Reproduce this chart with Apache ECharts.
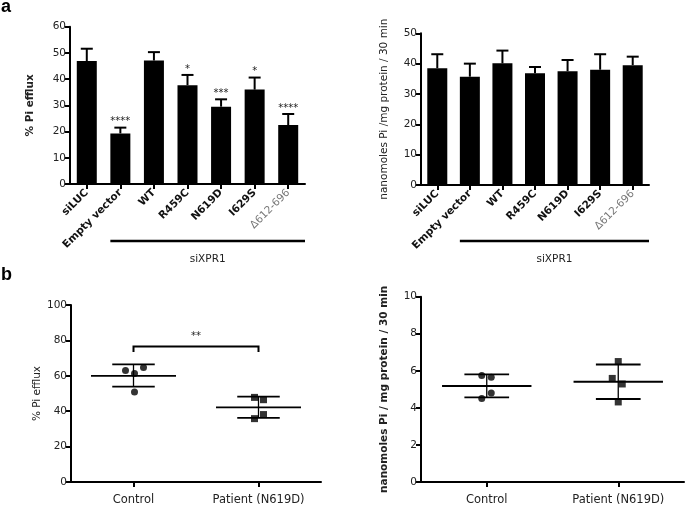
<!DOCTYPE html>
<html><head><meta charset="utf-8">
<script src="https://cdn.jsdelivr.net/npm/echarts@6/dist/echarts.min.js"></script>
<style>html,body{margin:0;padding:0;background:#fff}#c{width:685px;height:506px}</style>
</head><body><div id="c"></div>
<script>
// ---------- DATA ----------
const barCategories = ['siLUC','Empty vector','WT','R459C','N619D','I629S','\u0394612-696'];
const effluxMean = [46.9,19.3,47.1,37.7,29.5,36.0,22.5];
const effluxErrTop = [51.6,21.5,50.3,41.6,32.3,40.6,26.7];
const effluxStars = ['','****','','*','***','*','****'];
const uptakeMean = [38.5,35.7,40.1,36.8,37.5,38.0,39.5];
const uptakeErrTop = [43.1,40.0,44.3,38.9,41.2,43.1,42.3];
const groupLabel = 'siXPR1';
const groupStartCategory = 'Empty vector';

const dotCategories = ['Control','Patient (N619D)'];
const effluxControl = [63.0,61.3,64.7,50.9];
const effluxPatient = [47.8,46.5,38.1,35.8];
const effluxMeanSD = [[60.0,66.4,53.9],[42.2,48.2,36.2]];
const uptakeControl = [5.75,5.65,4.8,4.5];
const uptakePatient = [6.5,5.59,5.29,4.32];
const uptakeMeanSD = [[5.18,5.81,4.57],[5.41,6.34,4.48]];
const bracketTop = 76.5, bracketFoot = 73.4, bracketText = '**';

const yTicksTopLeft = [0,60,10];
const yTicksTopRight = [0,50,10];
const yTicksBottomLeft = [0,100,20];
const yTicksBottomRight = [0,10,2];

// ---------- STYLE ----------
const FONT = 'DejaVu Sans';
const jitterEffluxC = [-8,1,10,1], jitterEffluxP = [-4,5,5,-4];
const jitterUptakeC = [-5,4.5,4.5,-5], jitterUptakeP = [0,-6,4,0];

const chart = echarts.init(document.getElementById('c'), null, {renderer:'canvas'});

function yAxis(gi, t, name, bold, gap, fs){
  return {type:'value', gridIndex:gi, min:t[0], max:t[1], interval:t[2],
    name:name, nameLocation:'middle', nameGap:gap,
    nameTextStyle:{fontFamily:FONT, fontSize:fs, color:'#222', fontWeight:bold?'bold':'normal'},
    axisLine:{show:true, lineStyle:{color:'#000', width:2}},
    axisTick:{show:true, length:5, lineStyle:{color:'#000', width:2}},
    axisLabel:{fontFamily:FONT, fontSize:10.5, color:'#222', margin:4},
    splitLine:{show:false}};
}
function barX(gi){
  return {type:'category', gridIndex:gi, data:barCategories,
    axisLine:{lineStyle:{color:'#000', width:2}},
    axisTick:{show:true, alignWithLabel:true, length:5, lineStyle:{color:'#000', width:2}},
    axisLabel:{rotate:45, interval:0, fontFamily:FONT, fontSize:10.5, fontWeight:'bold', color:'#111', margin:7,
      formatter:v=> v.charAt(0)==='\u0394' ? '{g|'+v+'}' : v,
      rich:{g:{fontFamily:FONT, fontSize:10.5, fontWeight:'normal', color:'#777'}}}};
}
function dotX(gi){
  return {type:'category', gridIndex:gi, data:dotCategories,
    axisLine:{lineStyle:{color:'#000', width:2}},
    axisTick:{show:true, alignWithLabel:true, length:5, lineStyle:{color:'#000', width:2}},
    axisLabel:{fontFamily:FONT, fontSize:11.5, color:'#222', margin:12}};
}
function errSeries(gi, mean, top, stars){
  return {type:'custom', xAxisIndex:gi, yAxisIndex:gi, z:5,
    data: mean.map((m,i)=>[i,m,top[i]]),
    renderItem:(p,api)=>{
      const i=api.value(0);
      const a=api.coord([i,api.value(1)]), b=api.coord([i,api.value(2)]);
      const st={stroke:'#000', lineWidth:2};
      const ch=[
        {type:'line', shape:{x1:a[0],y1:a[1],x2:b[0],y2:b[1]}, style:st},
        {type:'line', shape:{x1:b[0]-6,y1:b[1],x2:b[0]+6,y2:b[1]}, style:st}];
      if(stars && stars[p.dataIndex]) ch.push({type:'text', x:b[0], y:b[1]-1,
        style:{text:stars[p.dataIndex], fill:'#222', font:'10px '+FONT, align:'center', verticalAlign:'bottom'}});
      return {type:'group', children:ch};
    }};
}
function sumSeries(gi, arr){
  return {type:'custom', xAxisIndex:gi, yAxisIndex:gi, z:4,
    data: arr.map((s,i)=>[i,s[0],s[1],s[2]]),
    renderItem:(p,api)=>{
      const i=api.value(0), band=api.size([1,0])[0];
      const m=api.coord([i,api.value(1)]), u=api.coord([i,api.value(2)]), l=api.coord([i,api.value(3)]);
      const hw=band*0.34, cw=band*0.17, st={stroke:'#000', lineWidth:1.8};
      return {type:'group', children:[
        {type:'line', shape:{x1:m[0]-hw,y1:m[1],x2:m[0]+hw,y2:m[1]}, style:st},
        {type:'line', shape:{x1:u[0]-cw,y1:u[1],x2:u[0]+cw,y2:u[1]}, style:st},
        {type:'line', shape:{x1:l[0]-cw,y1:l[1],x2:l[0]+cw,y2:l[1]}, style:st},
        {type:'line', shape:{x1:u[0],y1:u[1],x2:l[0],y2:l[1]}, style:{stroke:'#000', lineWidth:1.3}}]};
    }};
}
function dots(gi, cat, vals, jit, sym){
  return {type:'scatter', xAxisIndex:gi, yAxisIndex:gi, symbol:sym, symbolSize:7, z:6,
    itemStyle:{color:'#000'},
    data: vals.map((v,k)=>({value:[cat,v], symbolOffset:[jit[k],0]}))};
}

const option = {
  animation:false,
  grid:[
    {left:70, top:26.7, width:235, height:157.3},
    {left:421, top:33.3, width:228, height:151.7},
    {left:71, top:305, width:250, height:177.7},
    {left:421, top:296.7, width:263, height:186}],
  xAxis:[barX(0), barX(1), dotX(2), dotX(3)],
  yAxis:[
    yAxis(0, yTicksTopLeft, '% Pi efflux', true, 34, 10.5),
    yAxis(1, yTicksTopRight, 'nanomoles Pi /mg protein / 30 min', false, 31, 10.5),
    yAxis(2, yTicksBottomLeft, '% Pi efflux', false, 28, 10.5),
    yAxis(3, yTicksBottomRight, 'nanomoles Pi / mg protein / 30 min', true, 31, 10.5)],
  series:[
    {type:'bar', xAxisIndex:0, yAxisIndex:0, data:effluxMean, barWidth:20, itemStyle:{color:'#000'}},
    errSeries(0, effluxMean, effluxErrTop, effluxStars),
    {type:'bar', xAxisIndex:1, yAxisIndex:1, data:uptakeMean, barWidth:20, itemStyle:{color:'#000'}},
    errSeries(1, uptakeMean, uptakeErrTop, null),
    sumSeries(2, effluxMeanSD),
    dots(2, 0, effluxControl, jitterEffluxC, 'circle'),
    dots(2, 1, effluxPatient, jitterEffluxP, 'rect'),
    {type:'custom', xAxisIndex:2, yAxisIndex:2, data:[[0,1,bracketTop,bracketFoot]],
      renderItem:(p,api)=>{
        const a=api.coord([api.value(0),api.value(3)]), b=api.coord([api.value(0),api.value(2)]);
        const c=api.coord([api.value(1),api.value(2)]), d=api.coord([api.value(1),api.value(3)]);
        return {type:'group', children:[
          {type:'polyline', shape:{points:[a,b,c,d]}, style:{stroke:'#000', lineWidth:2, fill:null}},
          {type:'text', x:(b[0]+c[0])/2, y:b[1]-5, style:{text:bracketText, fill:'#222', font:'10px '+FONT, align:'center', verticalAlign:'bottom'}}]};
      }},
    sumSeries(3, uptakeMeanSD),
    dots(3, 0, uptakeControl, jitterUptakeC, 'circle'),
    dots(3, 1, uptakePatient, jitterUptakeP, 'rect')
  ]
};
chart.setOption(option);

// group annotation lines under the bar charts
const gi = barCategories.indexOf(groupStartCategory);
const g = [
  {type:'text', left:1, top:-2, style:{text:'a', font:'bold 18px Liberation Sans', fill:'#000'}},
  {type:'text', left:1, top:266, style:{text:'b', font:'bold 18px Liberation Sans', fill:'#000'}}];
[0,1].forEach(k=>{
  const s = chart.convertToPixel({xAxisIndex:k, yAxisIndex:k}, [gi, 0]);
  const x1 = s[0]-10, x2 = option.grid[k].left + option.grid[k].width, y = 241;
  g.push({type:'line', shape:{x1:x1,y1:y,x2:x2,y2:y}, style:{stroke:'#000', lineWidth:2.5}});
  g.push({type:'text', x:(x1+x2)/2, y:259, style:{text:groupLabel, font:'10.5px '+FONT, fill:'#222', align:'center', verticalAlign:'middle'}});
});
chart.setOption({graphic:g});
</script></body></html>
